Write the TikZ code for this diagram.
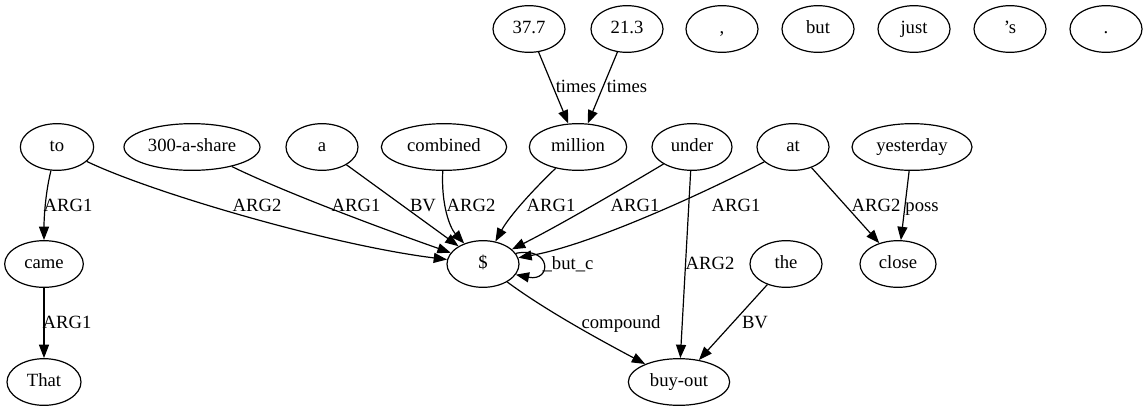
\documentclass[tikz,border=0pt]{standalone}
\usepackage{fontspec}
\setmainfont{Liberation Serif}
\newfontfamily\gvfont{Liberation Serif}
\usetikzlibrary{arrows.meta,shapes.geometric}
\begin{document}
\begin{tikzpicture}[x=0.75pt,y=-0.75pt,
  nd/.style={draw, ellipse, line width=0.9pt, inner sep=0pt, minimum height=35pt,
    minimum width=54pt, text height=9pt, text depth=3pt,
    font=\gvfont\fontsize{14pt}{16pt}\selectfont},
  ed/.style={draw, line width=0.9pt, -{Triangle[length=10pt,width=7.5pt]}},
  lab/.style={anchor=base, inner sep=0pt, font=\gvfont\fontsize{14pt}{16pt}\selectfont}]
\useasboundingbox (0,0) rectangle (1148,411);
% top row
\node[nd] (n377) at (529,29) {37.7};
\node[nd] (n213) at (627,29) {21.3};
\node[nd] (comma) at (722,29) {,};
\node[nd] (but) at (818,29) {but};
\node[nd] (just) at (914,29) {just};
\node[nd] (poss) at (1010,29) {’s};
\node[nd] (dot) at (1106,29) {.};
% second row
\node[nd, minimum width=55pt] (to) at (57,147) {to};
\node[nd, minimum width=102pt] (share) at (192,147) {300-a-share};
\node[nd] (a) at (322,147) {a};
\node[nd, minimum width=94pt] (combined) at (444,147) {combined};
\node[nd, minimum width=73pt] (million) at (578,147) {million};
\node[nd, minimum width=60pt] (under) at (692,147) {under};
\node[nd] (at) at (793,147) {at};
\node[nd, minimum width=90pt] (yesterday) at (912,147) {yesterday};
% third row
\node[nd, minimum width=59pt] (came) at (44,264) {came};
\node[nd] (dollar) at (483,264) {\$};
\node[nd] (the) at (786,264) {the};
\node[nd, minimum width=57pt] (close) at (898,264) {close};
% fourth row
\node[nd, minimum width=55.5pt] (That) at (44,382) {That};
\node[nd, minimum width=76pt] (buyout) at (679,382) {buy-out};
% edges
\draw[ed] (n377) -- (million);
\draw[ed] (n213) -- (million);
\draw[ed] (to) .. controls (46,190) and (44,215) .. (came);
\draw[ed] (to) .. controls (150,192) and (330,245) .. (dollar);
\draw[ed] (share) .. controls (290,195) and (400,235) .. (dollar);
\draw[ed] (a) -- (dollar);
\draw[ed] (combined) .. controls (441,205) and (450,228) .. (dollar);
\draw[ed] (million) .. controls (535,188) and (510,215) .. (dollar);
\draw[ed] (under) .. controls (620,190) and (560,225) .. (dollar);
\draw[ed] (at) .. controls (700,195) and (590,245) .. (dollar);
\draw[ed] (at) -- (close);
\draw[ed] (yesterday) -- (close);
\draw[ed] (under) -- (buyout);
\draw[ed] (the) -- (buyout);
\draw[ed] (dollar) .. controls (545,310) and (600,340) .. (buyout);
\draw[ed] (dollar.18) .. controls (552,246) and (552,282) .. (dollar.-18);
\draw[ed] (came) -- (That);
% labels
\node[lab] (l1) at (576,92) {times};
\node[lab] (l2) at (627,92) {times};
\node[lab] (l3) at (68,211) {ARG1};
\node[lab] (l4) at (257,211) {ARG2};
\node[lab] (l5) at (356,211) {ARG1};
\node[lab] (l6) at (423,211) {BV};
\node[lab] (l7) at (471,211) {ARG2};
\node[lab] (l8) at (551,211) {ARG1};
\node[lab] (l9) at (635,211) {ARG1};
\node[lab] (l10) at (736,211) {ARG1};
\node[lab] (l11) at (876,211) {ARG2};
\node[lab] (l12) at (922,211) {poss};
\node[lab] (l13) at (568,269) {\_but\_c};
\node[lab] (l14) at (710,269) {ARG2};
\node[lab] (l15) at (67,328) {ARG1};
\node[lab] (l16) at (621,328) {compound};
\node[lab] (l17) at (755,328) {BV};
\end{tikzpicture}
\end{document}
